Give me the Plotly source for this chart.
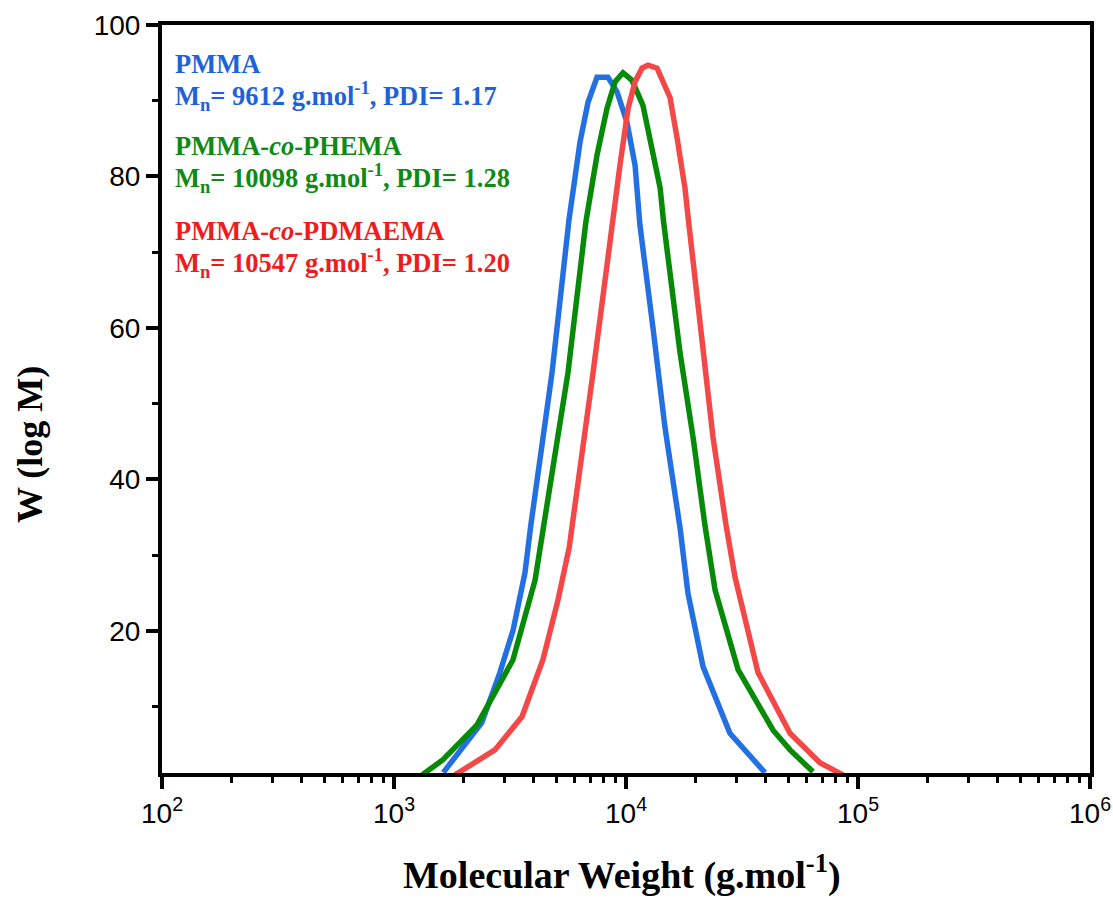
import plotly.graph_objects as go

# GPC molecular weight distributions (M in g/mol, W(log M))
pmma_M = [1630, 2390, 2860, 3260, 3670, 3890, 4800, 5680, 6340, 6860, 7500, 8360,
          9140, 10090, 10940, 11480, 13060, 14720, 17100, 18490, 21480, 28050, 39720]
pmma_W = [1.3, 7.9, 14.5, 20.1, 27.7, 34.0, 54.1, 74.3, 84.6, 89.8, 93.1, 93.1,
          91.2, 87.2, 81.5, 73.6, 60.1, 46.9, 33.6, 25.0, 15.3, 6.5, 1.3]

phema_M = [1321, 1626, 2280, 3258, 4055, 4436, 5623, 6714, 7499, 8279, 8974, 9705,
           10617, 11830, 12940, 14030, 14520, 17100, 19450, 21880, 24210, 30410,
           43050, 50930, 63970]
phema_W = [1.0, 3.0, 7.6, 16.2, 26.7, 34.0, 54.1, 74.0, 82.8, 89.0, 92.5, 93.7,
           92.7, 89.4, 83.2, 78.5, 74.0, 56.7, 45.6, 34.0, 25.4, 14.9,
           6.9, 4.3, 1.4]

pdmaema_M = [1832, 2723, 3565, 4385, 5093, 5690, 7211, 8670, 9419, 10210, 10940,
             11720, 12450, 13610, 14420, 15490, 16600, 17950, 18620, 21480, 23710,
             26980, 29510, 37070, 50930, 68550, 86100]
pdmaema_W = [1.0, 4.3, 8.7, 16.2, 24.1, 31.0, 54.1, 74.0, 81.5, 89.0, 92.5,
             94.3, 94.7, 94.3, 92.7, 90.4, 85.1, 78.5, 74.0, 56.7, 45.6,
             34.0, 27.1, 14.5, 6.5, 2.6, 1.0]

series_names = ["PMMA", "PMMA-co-PHEMA", "PMMA-co-PDMAEMA"]
line_colors = ["#2370e2", "#078a07", "#f44848"]
text_colors = ["#1f62d8", "#0f8a16", "#ee1c1c"]

label_titles = ["PMMA", "PMMA-<i>co</i>-PHEMA", "PMMA-<i>co</i>-PDMAEMA"]
label_stats = ["M<sub>n</sub>= 9612 g.mol<sup>-1</sup>, PDI= 1.17",
               "M<sub>n</sub>= 10098 g.mol<sup>-1</sup>, PDI= 1.28",
               "M<sub>n</sub>= 10547 g.mol<sup>-1</sup>, PDI= 1.20"]

x_major = [1e2, 1e3, 1e4, 1e5, 1e6]
x_major_text = ["10<sup>2</sup>", "10<sup>3</sup>", "10<sup>4</sup>",
                "10<sup>5</sup>", "10<sup>6</sup>"]
y_major = [20, 40, 60, 80, 100]
y_minor = [10, 30, 50, 70, 90]

x_minor = [m * d for d in [1e2, 1e3, 1e4, 1e5] for m in range(2, 10)]

fig = go.Figure()
for name, xs, ys, col in zip(series_names,
                             [pmma_M, phema_M, pdmaema_M],
                             [pmma_W, phema_W, pdmaema_W],
                             line_colors):
    fig.add_trace(go.Scatter(x=xs, y=ys, mode="lines", name=name,
                             line=dict(color=col, width=5.5)))

W, H = 1113, 898
L, R, T, B = 162, 23, 25, 125
pw, ph = W - L - R, H - T - B

def px_x(px):
    return (px - L) / pw

def px_y(py):
    return (H - B - py) / ph

serif = "Liberation Serif, Times New Roman, serif"
sans = "Liberation Sans, Arial, sans-serif"

annotations = []
title_rows = [64, 146, 231]
stat_rows = [96, 178, 263]
for t, s, c, ty, sy in zip(label_titles, label_stats, text_colors, title_rows, stat_rows):
    annotations.append(dict(text=f"<b>{t}</b>", x=px_x(173), y=px_y(ty),
                            xref="paper", yref="paper", xanchor="left", yanchor="middle",
                            showarrow=False, font=dict(family=serif, size=26.5, color=c)))
    annotations.append(dict(text=f"<b>{s}</b>", x=px_x(173), y=px_y(sy),
                            xref="paper", yref="paper", xanchor="left", yanchor="middle",
                            showarrow=False, font=dict(family=serif, size=26.5, color=c)))

annotations.append(dict(text="<b>Molecular Weight (g.mol<sup>-1</sup>)</b>",
                        x=px_x(622), y=px_y(872), xref="paper", yref="paper",
                        xanchor="center", yanchor="middle", showarrow=False,
                        font=dict(family=serif, size=38, color="black")))
annotations.append(dict(text="<b>W (log M)</b>", x=px_x(30), y=px_y(445),
                        xref="paper", yref="paper", textangle=-90,
                        xanchor="center", yanchor="middle", showarrow=False,
                        font=dict(family=serif, size=36, color="black")))

fig.update_layout(
    width=W, height=H,
    margin=dict(l=L, r=R, t=T, b=B, autoexpand=False),
    paper_bgcolor="white", plot_bgcolor="white",
    showlegend=False,
    annotations=annotations,
    xaxis=dict(type="log", range=[2, 6], showgrid=False, zeroline=False,
               automargin=False, ticklabeloverflow="allow",
               showline=True, linecolor="black", linewidth=4, mirror=True,
               ticks="outside", ticklen=12, tickwidth=3.5, tickcolor="black",
               tickvals=x_major, ticktext=x_major_text,
               tickfont=dict(family=sans, size=28, color="black"),
               minor=dict(tickvals=x_minor, ticks="outside", ticklen=6,
                          tickwidth=3, tickcolor="black", showgrid=False)),
    yaxis=dict(range=[1.25, 100], showgrid=False, zeroline=False,
               automargin=False,
               showline=True, linecolor="black", linewidth=4, mirror=True,
               ticks="outside", ticklen=12, tickwidth=3.5, tickcolor="black",
               tickvals=y_major,
               tickfont=dict(family=sans, size=28, color="black"),
               minor=dict(tickvals=y_minor, ticks="outside", ticklen=6,
                          tickwidth=3, tickcolor="black", showgrid=False)),
)

fig.write_html("out.html")
